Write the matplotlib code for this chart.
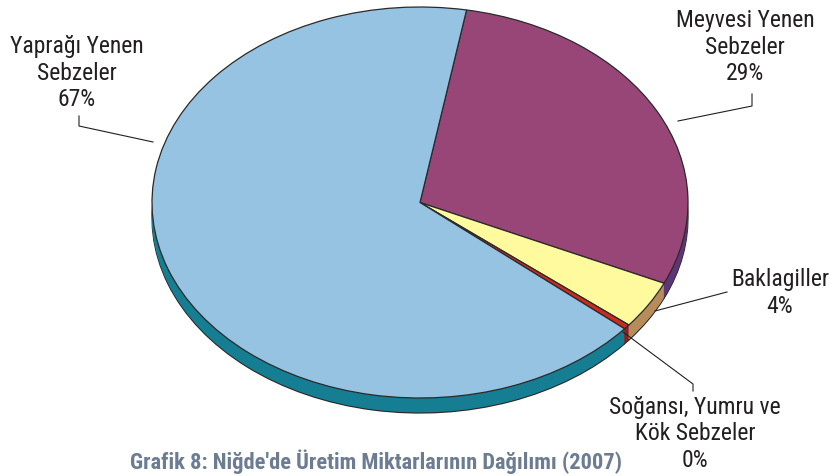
import matplotlib
matplotlib.use("Agg")
import matplotlib.pyplot as plt
from matplotlib.lines import Line2D
import numpy as np

plt.rcParams['font.family'] = ['Roboto Condensed', 'Liberation Sans', 'DejaVu Sans']

# veriler (dilimler saat yönünde, üstten başlayarak)
categories = ['Meyvesi Yenen\nSebzeler', 'Baklagiller', 'Soğansı, Yumru ve\nKök Sebzeler', 'Yaprağı Yenen\nSebzeler']
values = [29.0, 4.0, 0.4, 66.6]
pct_labels = ['29%', '4%', '0%', '67%']

top_colors = ['#974677', '#FFFA9E', '#CC2A1E', '#96C3E2']
side_colors = ['#5E3576', '#B68D5A', '#8E1F1F', '#157E93']

W, H = 830, 477
fig = plt.figure(figsize=(W / 100, H / 100), dpi=100)

def fx(x):
    return x / W

def fy(y):
    return 1 - y / H

# elips kutusu (üst yüz)
left, right, top, bottom = 152, 688, 8, 399
ax = fig.add_axes([fx(left), fy(bottom), (right - left) / W, (bottom - top) / H])
depth = 15 / ((bottom - top) / 2)
start = 80

# 3B yan yüz: aşağı kaydırılmış katmanlar
offsets = np.linspace(depth, 0.004, 18)
for i, k in enumerate(offsets):
    lw = 0.9 if i == 0 else 0
    ax.pie(values, colors=side_colors, startangle=start, counterclock=False,
           center=(0, -k), radius=1,
           wedgeprops=dict(edgecolor='#2a2a2a', linewidth=lw, clip_on=False))

# üst yüz
ax.pie(values, colors=top_colors, startangle=start, counterclock=False,
       center=(0, 0), radius=1,
       wedgeprops=dict(edgecolor='#2a2a2a', linewidth=0.9, clip_on=False))
ax.set_aspect('auto')
ax.set_xlim(-1, 1)
ax.set_ylim(-1, 1)
ax.axis('off')

# etiketler
label_pos = {
    0: (745, 47),
    1: (780, 293),
    2: (695, 434),
    3: (77, 73),
}
for i, (x, y) in label_pos.items():
    fig.text(fx(x), fy(y), categories[i] + '\n' + pct_labels[i], ha='center', va='center',
             fontsize=17, color='#231f20', linespacing=1.2)

# çizgiler
leaders = [
    [(752, 95), (752, 107), (678, 122)],
    [(727, 293), (655, 312)],
    [(623, 333), (693, 385), (693, 392)],
    [(79, 117), (79, 127), (153, 143)],
]
for pts in leaders:
    xs = [fx(p[0]) for p in pts]
    ys = [fy(p[1]) for p in pts]
    fig.add_artist(Line2D(xs, ys, color='#231f20', linewidth=0.8))

fig.text(fx(130), fy(462), "Grafik 8: Niğde'de Üretim Miktarlarının Dağılımı (2007)",
         ha='left', va='center', fontsize=16.2, fontweight='bold', color='#6B7C93')

fig.savefig('out.png', dpi=100)
